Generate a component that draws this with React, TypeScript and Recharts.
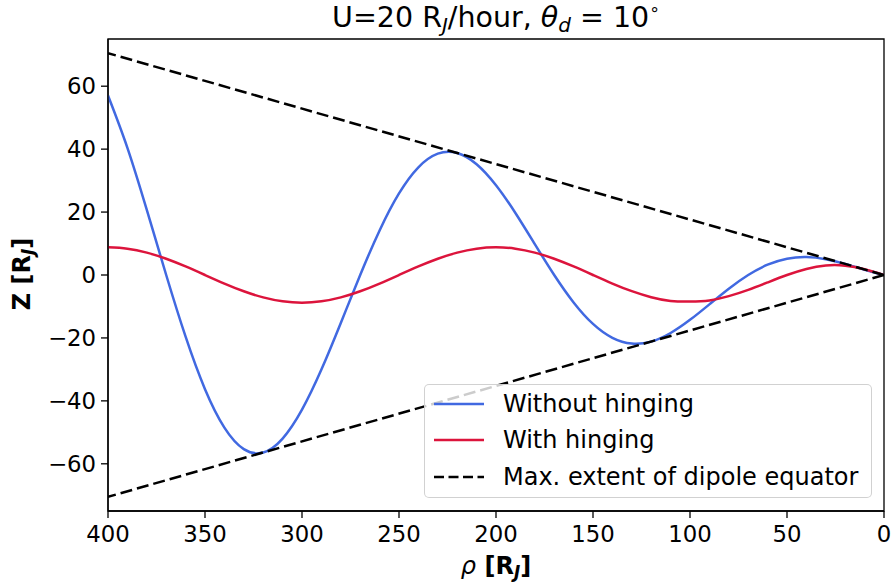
import { Legend, Line, LineChart, ReferenceArea, XAxis, YAxis } from 'recharts';

const rho = [
    0, 10, 20, 30, 40, 50, 60, 70, 80, 90, 100, 110, 120, 130, 140, 150, 160, 170, 180, 190, 200,
    210, 220, 230, 240, 250, 260, 270, 280, 290, 300, 310, 320, 330, 340, 350, 360, 370, 380, 390, 400,
];

// Z [RJ]
const withoutHinging = [
    0, 1.68, 3.53, 5.03, 5.71, 5.18, 3.27, 0, -4.36, -9.33, -14.26, -18.44, -21.16, -21.8, -19.97,
    -15.55, -8.72, 0, 9.81, 19.7, 28.53, 35.21, 38.79, 38.56, 34.23, 25.92, 14.16, 0, -15.25, -30.06,
    -42.79, -51.98, -56.42, -55.33, -48.49, -36.28, -19.61, 0, 20.7, 40.43, 57.05,
];

// Z [RJ]
const withHinging = [
    0, 1.83, 2.97, 3.02, 1.93, 0, -2.37, -4.73, -6.72, -8.07, -8.45, -8.24, -7.05, -5.14, -2.71, 0,
    2.71, 5.17, 7.12, 8.37, 8.8, 8.37, 7.12, 5.17, 2.72, 0, -2.72, -5.17, -7.12, -8.37, -8.8, -8.37,
    -7.12, -5.17, -2.72, 0, 2.72, 5.17, 7.12, 8.37, 8.8,
];

const extentRho = [0, 400];
const extentUpper = [0, 70.5];
const extentLower = [0, -70.5];

const xTicks = [0, 50, 100, 150, 200, 250, 300, 350, 400];
const yTicks = [-60, -40, -20, 0, 20, 40, 60];

const data = rho.map((r, i) => {
    const k = extentRho.indexOf(r);
    return {
        rho: r,
        without: withoutHinging[i],
        with: withHinging[i],
        upper: k >= 0 ? extentUpper[k] : null,
        lower: k >= 0 ? extentLower[k] : null,
    };
});

const FONT = '"DejaVu Sans", sans-serif';
const BLUE = '#4169e1';
const RED = '#dc143c';
const DASH = '12 5';

const fmt = (v: number) => (v < 0 ? '\u2212' + Math.abs(v) : String(v));

const subStyle = { fontStyle: 'italic', fontSize: '0.7em', verticalAlign: '-0.25em', lineHeight: 0 } as const;

function LegendBox() {
    const rows = [
        { label: 'Without hinging', color: BLUE, dash: undefined },
        { label: 'With hinging', color: RED, dash: undefined },
        { label: 'Max. extent of dipole equator', color: '#000', dash: '10 4.5' },
    ];
    return (
        <div
            style={{
                position: 'relative',
                width: 448,
                height: 114,
                boxSizing: 'border-box',
                background: 'rgba(255,255,255,0.8)',
                border: '1px solid rgba(204,204,204,0.9)',
                borderRadius: 5,
                fontFamily: FONT,
                fontSize: 24,
                color: '#000',
            }}
        >
            {rows.map((r, i) => (
                <div key={r.label} style={{ position: 'absolute', left: 0, top: 5 + i * 36.3, height: 28, width: 448 }}>
                    <svg width={52} height={28} style={{ position: 'absolute', left: 8, top: 0 }}>
                        <line x1={1} y1={14} x2={51} y2={14} stroke={r.color} strokeWidth={2.5} strokeDasharray={r.dash} />
                    </svg>
                    <span style={{ position: 'absolute', left: 78, top: 0, lineHeight: '28px', whiteSpace: 'nowrap' }}>
                        {r.label}
                    </span>
                </div>
            ))}
        </div>
    );
}

export default function App() {
    return (
        <div style={{ position: 'absolute', left: 0, top: 0, width: 893, height: 584, fontFamily: FONT, background: '#fff' }}>
            <div style={{ position: 'absolute', left: 108, top: 1, width: 776, textAlign: 'center', fontSize: 28.5, whiteSpace: 'nowrap' }}>
                U=20 R<sub style={subStyle}>J</sub>/hour,{' '}
                <i>θ</i>
                <sub style={subStyle}>d</sub> = 10
                <sup style={{ fontSize: '0.6em', verticalAlign: '0.7em', lineHeight: 0 }}>∘</sup>
            </div>
            <LineChart width={893} height={584} data={data} margin={{ top: 39, right: 9, bottom: 33, left: 48 }}>
                <XAxis
                    type="number"
                    dataKey="rho"
                    domain={[0, 400]}
                    reversed
                    ticks={xTicks}
                    height={40}
                    tickSize={7}
                    tickMargin={8}
                    allowDataOverflow
                    axisLine={{ stroke: '#000', strokeWidth: 1.3 }}
                    tickLine={{ stroke: '#000', strokeWidth: 1.3 }}
                    tick={{ fill: '#000', fontSize: 22.8, fontFamily: FONT }}
                />
                <YAxis
                    type="number"
                    domain={[-75, 75]}
                    ticks={yTicks}
                    width={60}
                    tickSize={7}
                    tickMargin={5}
                    allowDataOverflow
                    tickFormatter={fmt}
                    axisLine={{ stroke: '#000', strokeWidth: 1.3 }}
                    tickLine={{ stroke: '#000', strokeWidth: 1.3 }}
                    tick={{ fill: '#000', fontSize: 22.8, fontFamily: FONT }}
                />
                <ReferenceArea x1={0} x2={400} y1={-75} y2={75} fill="none" stroke="#000" strokeWidth={1.3} />
                <Line type="natural" dataKey="without" stroke={BLUE} strokeWidth={2.5} dot={false} isAnimationActive={false} />
                <Line type="natural" dataKey="with" stroke={RED} strokeWidth={2.5} dot={false} isAnimationActive={false} />
                <Line
                    type="linear"
                    dataKey="upper"
                    stroke="#000"
                    strokeWidth={2.5}
                    strokeDasharray={DASH}
                    dot={false}
                    connectNulls
                    isAnimationActive={false}
                />
                <Line
                    type="linear"
                    dataKey="lower"
                    stroke="#000"
                    strokeWidth={2.5}
                    strokeDasharray={DASH}
                    dot={false}
                    connectNulls
                    isAnimationActive={false}
                />
                <Legend
                    layout="vertical"
                    align="center"
                    verticalAlign="middle"
                    wrapperStyle={{ left: 424, top: 384, width: 448, height: 114 }}
                    content={() => <LegendBox />}
                />
            </LineChart>
            <div style={{ position: 'absolute', left: 108, top: 552, width: 776, textAlign: 'center', fontSize: 24, fontWeight: 'bold', whiteSpace: 'nowrap' }}>
                <i style={{ fontWeight: 'normal' }}>ρ</i> [R<sub style={subStyle}>J</sub>]
            </div>
            <div
                style={{
                    position: 'absolute',
                    left: -78,
                    top: 260,
                    width: 200,
                    height: 28,
                    lineHeight: '28px',
                    textAlign: 'center',
                    fontSize: 24,
                    fontWeight: 'bold',
                    whiteSpace: 'nowrap',
                    transform: 'rotate(-90deg)',
                }}
            >
                Z [R<sub style={subStyle}>J</sub>]
            </div>
        </div>
    );
}
